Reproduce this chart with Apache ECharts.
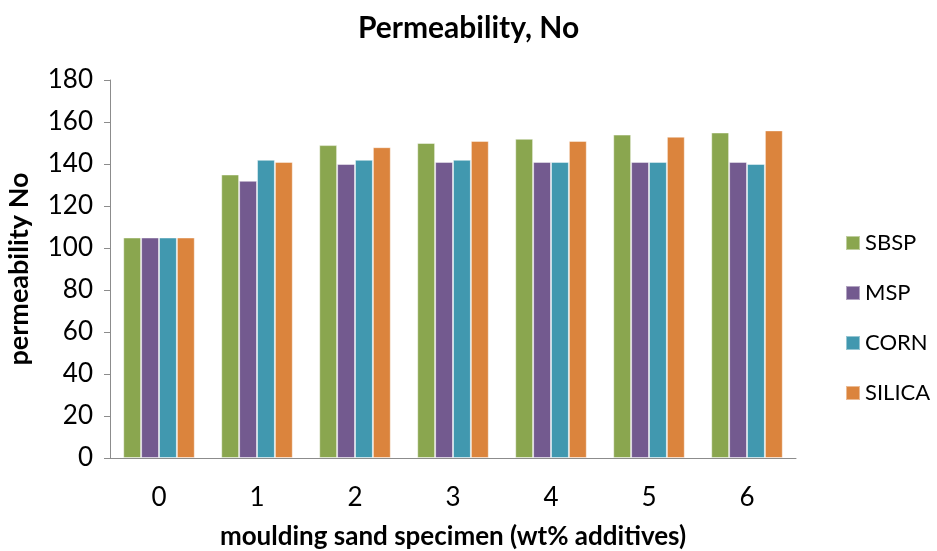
<!DOCTYPE html>
<html>
<head>
<meta charset="utf-8">
<script src="https://cdn.jsdelivr.net/npm/echarts@6/dist/echarts.min.js"></script>
<style>
  html, body { margin: 0; padding: 0; background: #fff; }
  #chart { width: 937px; height: 551px; }
</style>
</head>
<body>
<div id="chart"></div>
<script>
// Specimen categories (wt% additives)
const categories = ['0', '1', '2', '3', '4', '5', '6'];

// Permeability number per additive type
const sbsp   = [105, 135, 149, 150, 152, 154, 155];
const msp    = [105, 132, 140, 141, 141, 141, 141];
const corn   = [105, 142, 142, 142, 141, 141, 140];
const silica = [105, 141, 148, 151, 151, 153, 156];

const seriesNames = ['SBSP', 'MSP', 'CORN', 'SILICA'];
const seriesData = [sbsp, msp, corn, silica];
const colors = ['#8AA64F', '#735A8F', '#4198AF', '#DB843D'];

const font = 'Lato, "Open Sans", sans-serif';

const chart = echarts.init(document.getElementById('chart'), null, { renderer: 'canvas' });

chart.setOption({
  animation: false,
  backgroundColor: '#ffffff',
  color: colors,
  title: {
    text: 'Permeability, No',
    left: 'center',
    top: 8,
    textStyle: { fontFamily: font, fontSize: 30, fontWeight: 'bold', color: '#000' }
  },
  legend: {
    orient: 'vertical',
    left: 840,
    top: 227,
    itemWidth: 14,
    itemHeight: 14,
    itemGap: 28,
    icon: 'rect',
    textStyle: { fontFamily: font, fontSize: 22, color: '#000' },
    data: seriesNames
  },
  grid: { left: 110, right: 141, top: 80, bottom: 93, containLabel: false, outerBoundsMode: 'none' },
  xAxis: {
    type: 'category',
    data: categories,
    name: 'moulding sand specimen (wt% additives)',
    nameLocation: 'middle',
    nameGap: 66,
    nameTextStyle: { fontFamily: font, fontSize: 26, fontWeight: 'bold', color: '#000' },
    axisLine: { lineStyle: { color: '#8C8C8C', width: 1 } },
    axisTick: { show: false },
    axisLabel: { fontFamily: font, fontSize: 26, color: '#000', margin: 27 }
  },
  yAxis: {
    type: 'value',
    min: 0,
    max: 180,
    interval: 20,
    name: 'permeability No',
    nameLocation: 'middle',
    nameGap: 77,
    nameRotate: 90,
    nameTextStyle: { fontFamily: font, fontSize: 27, fontWeight: 'bold', color: '#000' },
    axisLine: { show: true, lineStyle: { color: '#8C8C8C', width: 1 } },
    axisTick: { show: true, length: 6, lineStyle: { color: '#8C8C8C' } },
    splitLine: { show: false },
    axisLabel: { fontFamily: font, fontSize: 26, color: '#000', margin: 17 }
  },
  series: seriesNames.map((name, i) => ({
    name: name,
    type: 'bar',
    data: seriesData[i],
    barGap: '0%',
    barCategoryGap: '27%',
    itemStyle: { color: colors[i], borderColor: 'rgba(255,255,255,0.45)', borderWidth: 1 }
  }))
});
</script>
</body>
</html>
